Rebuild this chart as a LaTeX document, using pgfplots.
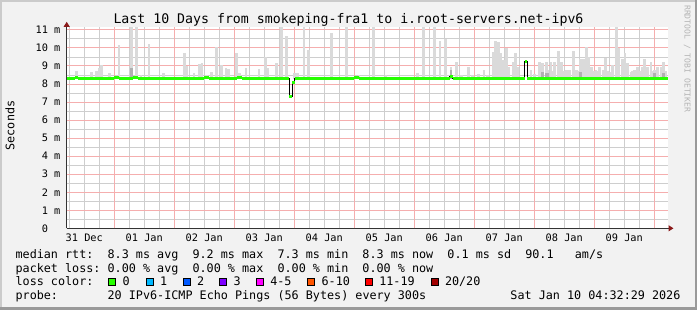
\documentclass[border=0pt]{standalone}
\usepackage{fontspec}
\setmainfont{DejaVu Sans Mono}
\usepackage{pgfplots}
\pgfplotsset{compat=1.18}
\usepackage{pgfplotstable}
\usetikzlibrary{arrows.meta}

\definecolor{bgc}{HTML}{F2F2F2}
\definecolor{shadea}{HTML}{CBCBCB}
\definecolor{shadeb}{HTML}{9A9A9A}
\definecolor{mgrid}{HTML}{F5AEAE}
\definecolor{gridc}{HTML}{CECECE}
\definecolor{smoke}{HTML}{DADADA}
\definecolor{smokedark}{HTML}{B0B0B0}
\definecolor{arrowc}{HTML}{8B1A1A}
\definecolor{wmgrey}{HTML}{B5B5B5}
\definecolor{lc0}{HTML}{26FF00}
\definecolor{lc1}{HTML}{00B8FF}
\definecolor{lc2}{HTML}{0059FF}
\definecolor{lc3}{HTML}{7E00FF}
\definecolor{lc5}{HTML}{FF00FF}
\definecolor{lc10}{HTML}{FF5500}
\definecolor{lc19}{HTML}{FF0000}
\definecolor{lc20}{HTML}{A10000}

\tikzset{
  mgridline/.style={draw=mgrid, line width=0.9bp},
  gridline/.style={draw=gridc, line width=0.8bp},
}

\newcommand\titlefont{\fontsize{13.23bp}{15bp}\selectfont}
\newcommand\legfont{\fontsize{11.76bp}{14bp}\selectfont}
\newcommand\tickfont{\fontsize{10.29bp}{12bp}\selectfont}
\newcommand\wmfont{\fontsize{8.1bp}{10bp}\selectfont}

% hours since 31 Dec 00:00 ; top of smoke (ms)
\pgfplotstableread{
h base top
8.96 8.3 8.72
14.8 8.3 8.67
16.96 8.3 8.74
18.0 8.3 8.90
18.9 8.3 9.05
22.0 8.3 8.63
25.9 8.3 10.16
30.8 8.3 11.3
32.8 8.3 11.3
34.7 8.3 8.50
37.9 8.3 10.22
43.8 8.3 8.63
52.0 8.3 9.69
53.1 8.3 8.97
55.9 8.3 8.59
58.0 8.3 9.09
59.1 8.3 9.18
60.8 8.3 8.50
62.8 8.3 8.69
64.8 8.3 10.04
67.0 8.3 9.05
68.7 8.3 8.87
69.6 8.3 8.82
73.0 8.3 9.69
74.0 8.3 8.63
76.7 8.3 8.87
81.9 8.3 8.82
84.4 8.3 9.51
85.5 8.3 8.87
89.0 8.3 9.18
90.8 8.3 11.3
93.0 8.3 10.66
96.2 8.3 8.59
97.3 8.3 8.59
99.9 8.3 11.3
101.8 8.3 9.88
110.8 8.3 10.80
116.8 8.3 11.3
121.9 8.3 8.50
127.8 8.3 11.3
132.7 8.3 8.50
145.4 8.3 8.59
147.6 8.3 11.3
152.0 8.3 11.3
154.3 8.3 10.40
156.6 8.3 10.48
158.7 8.3 8.96
160.8 8.3 9.20
163.0 8.3 8.50
165.8 8.3 8.96
167.2 8.3 8.50
169.7 8.3 8.57
171.9 8.3 8.77
173.4 8.3 8.50
175.5 8.3 9.79
176.6 8.3 10.40
177.6 8.3 10.34
178.7 8.3 9.69
179.8 8.3 9.33
180.8 8.3 9.98
181.9 8.3 8.96
183.5 8.3 9.24
184.4 8.3 9.69
185.5 8.3 8.96
190.7 8.3 8.77
192.0 8.3 8.57
194.0 8.3 9.24
195.4 8.3 9.14
196.8 8.3 9.24
197.4 8.3 8.77
198.7 8.3 9.24
199.3 8.3 8.70
200.0 8.3 9.24
201.8 8.3 9.85
202.8 8.3 9.24
203.9 8.3 8.70
205.0 8.3 8.77
206.0 8.3 8.77
207.6 8.3 9.85
208.8 8.3 8.77
209.6 8.3 8.70
210.4 8.3 9.37
211.8 8.3 9.37
212.9 8.3 10.07
213.8 8.3 9.51
214.8 8.3 8.96
215.8 8.3 8.70
216.7 8.3 8.77
217.4 8.3 8.70
218.0 8.3 8.96
219.7 8.3 8.77
220.6 8.3 9.42
221.3 8.3 8.70
222.0 8.3 8.69
223.2 8.3 9.05
224.8 8.3 11.3
225.9 8.3 9.98
227.2 8.3 9.37
228.3 8.3 9.69
229.4 8.3 9.14
230.7 8.3 8.69
231.3 8.3 8.70
232.0 8.3 8.77
233.4 8.3 8.96
234.3 8.3 8.70
235.2 8.3 8.96
236.2 8.3 9.37
237.4 8.3 8.96
238.7 8.3 9.24
239.3 8.3 8.70
240.0 8.3 8.77
241.4 8.3 8.96
242.7 8.3 8.96
243.8 8.3 9.24
244.6 8.3 8.70
}\smokelight

\pgfplotstableread{
h base top
30.8 8.3 8.87
158.7 8.3 8.77
195.4 8.3 8.65
196.8 8.3 8.60
197.4 8.3 8.60
210.4 8.3 8.65
240.0 8.3 8.60
243.8 8.3 8.60
}\smokedarktab

% median rtt (ms), step values
\pgfplotstableread{
h med
4.96 8.31
8.3 8.35
9.5 8.31
24 8.35
26 8.31
31.4 8.35
33.4 8.31
42 8.28
44.7 8.31
46 8.28
48 8.31
53 8.28
54.5 8.31
60 8.35
62 8.31
73 8.35
75 8.31
80 8.29
82 8.31
94.0 7.30
95.1 8.07
96.2 8.33
104 8.30
106 8.33
112 8.30
114 8.33
120 8.35
122 8.31
134 8.29
136 8.31
150 8.29
152 8.31
158.1 8.44
159.4 8.29
161 8.31
168 8.29
170 8.31
186 8.33
188.2 9.24
189.1 8.29
190.5 8.31
195 8.29
197 8.31
204 8.29
206 8.31
212 8.29
214 8.31
220 8.29
226 8.31
232 8.29
238 8.31
245.48 8.31
}\median

\begin{document}
\begin{tikzpicture}
% canvas
\fill[bgc] (0bp,0bp) rectangle (697bp,310bp);
\fill[shadea] (0bp,0bp) rectangle (2bp,310bp);
\fill[shadea] (0bp,308bp) rectangle (697bp,310bp);
\fill[shadeb] (694.5bp,0bp) rectangle (697bp,310bp);
\fill[shadeb] (0bp,0bp) rectangle (697bp,2.5bp);

\begin{axis}[
  at={(66.7bp,81.7bp)}, anchor=south west,
  x=2.5bp, y=18.04bp,
  xmin=4.96, xmax=245.48, ymin=0, ymax=11.14,
  axis background/.style={fill=white},
  axis lines=left,
  axis line style={draw=black!80, line width=1bp, shorten >=-5.5bp,
    -{Triangle[length=5bp,width=6bp,color=arrowc]}},
  xtick={12,36,...,228},
  xticklabels={31 Dec,01 Jan,02 Jan,03 Jan,04 Jan,05 Jan,06 Jan,07 Jan,08 Jan,09 Jan},
  ytick={0,1,...,11},
  yticklabels={0\phantom{~m},1~m,2~m,3~m,4~m,5~m,6~m,7~m,8~m,9~m,10~m,11~m},
  major tick length=0pt, minor tick length=0pt,
  tick label style={font=\tickfont},
  xticklabel style={anchor=base, inner sep=0pt, yshift=-13.4bp},
  yticklabel style={anchor=east, inner sep=0pt, xshift=-6.1bp},
]
% grid (drawn first, under the data)
\pgfplotsinvokeforeach{0.5,1.5,...,10.5}{
  \draw[gridline] (axis cs:4.96,#1) -- (axis cs:245.48,#1);}
\pgfplotsinvokeforeach{6,12,18,30,36,42,54,60,66,78,84,90,102,108,114,126,132,138,150,156,162,174,180,186,198,204,210,222,228,234}{
  \draw[gridline] (axis cs:#1,0) -- (axis cs:#1,11.14);}
\pgfplotsinvokeforeach{1,2,...,11}{
  \draw[mgridline] (axis cs:4.96,#1) -- (axis cs:245.48,#1);}
\pgfplotsinvokeforeach{24,48,...,240}{
  \draw[mgridline] (axis cs:#1,0) -- (axis cs:#1,11.14);}

\addplot[draw=none, mark=none,
  error bars/.cd, y dir=plus, y explicit, error mark=none,
  error bar style={line width=2.7bp, draw=smoke, solid}]
  table[x=h, y=base, y error expr=\thisrow{top}-\thisrow{base}] {\smokelight};
\addplot[draw=none, mark=none,
  error bars/.cd, y dir=plus, y explicit, error mark=none,
  error bar style={line width=2.7bp, draw=smokedark, solid}]
  table[x=h, y=base, y error expr=\thisrow{top}-\thisrow{base}] {\smokedarktab};
\addplot[const plot mark left, draw=black, line width=1bp, mark=none]
  table[x=h, y=med] {\median};
\addplot[jump mark left, draw=lc0, line width=3bp, mark=none]
  table[x=h, y=med] {\median};
\end{axis}

% title and labels
\node[anchor=base, inner sep=0pt] at (348.5bp,286bp)
  {\titlefont Last 10 Days from smokeping-fra1 to i.root-servers.net-ipv6};
\node[rotate=90, anchor=base, inner sep=0pt] at (14.3bp,184.5bp) {\legfont Seconds};
\node[rotate=-90, anchor=base west, inner sep=0pt, text=wmgrey] at (684.6bp,305bp)
  {\wmfont RRDTOOL~/~TOBI~OETIKER};

% legend
\node[anchor=base west, inner sep=0pt] at (15.4bp,51.7bp)
  {\legfont median~rtt:~~8.3~ms~avg~~9.2~ms~max~~7.3~ms~min~~8.3~ms~now~~0.1~ms~sd~~90.1~~~am/s};
\node[anchor=base west, inner sep=0pt] at (15.4bp,37.9bp)
  {\legfont packet~loss:~0.00~\%~avg~~0.00~\%~max~~0.00~\%~min~~0.00~\%~now};
\node[anchor=base west, inner sep=0pt] at (15.4bp,24.1bp)
  {\legfont loss~color:};
\foreach \xx/\cc/\ll in {108.3/lc0/0, 145.7/lc1/1, 182.7/lc2/2, 219.3/lc3/3, 256/lc5/4-5, 307.3/lc10/6-10, 365/lc19/11-19, 430.7/lc20/{20/20}}{
  \draw[fill=\cc, draw=black, line width=1bp] (\xx bp+0.5bp,24.4bp) rectangle ++(7bp,7bp);
  \node[anchor=base west, inner sep=0pt] at (\xx bp+14.1bp,24.1bp) {\legfont \ll};
}
\node[anchor=base west, inner sep=0pt] at (15.4bp,10.3bp)
  {\legfont probe:~~~~~~~20~IPv6-ICMP~Echo~Pings~(56~Bytes)~every~300s};
\node[anchor=base east, inner sep=0pt] at (680.6bp,10.3bp)
  {\legfont Sat~Jan~10~04:32:29~2026};
\end{tikzpicture}
\end{document}
